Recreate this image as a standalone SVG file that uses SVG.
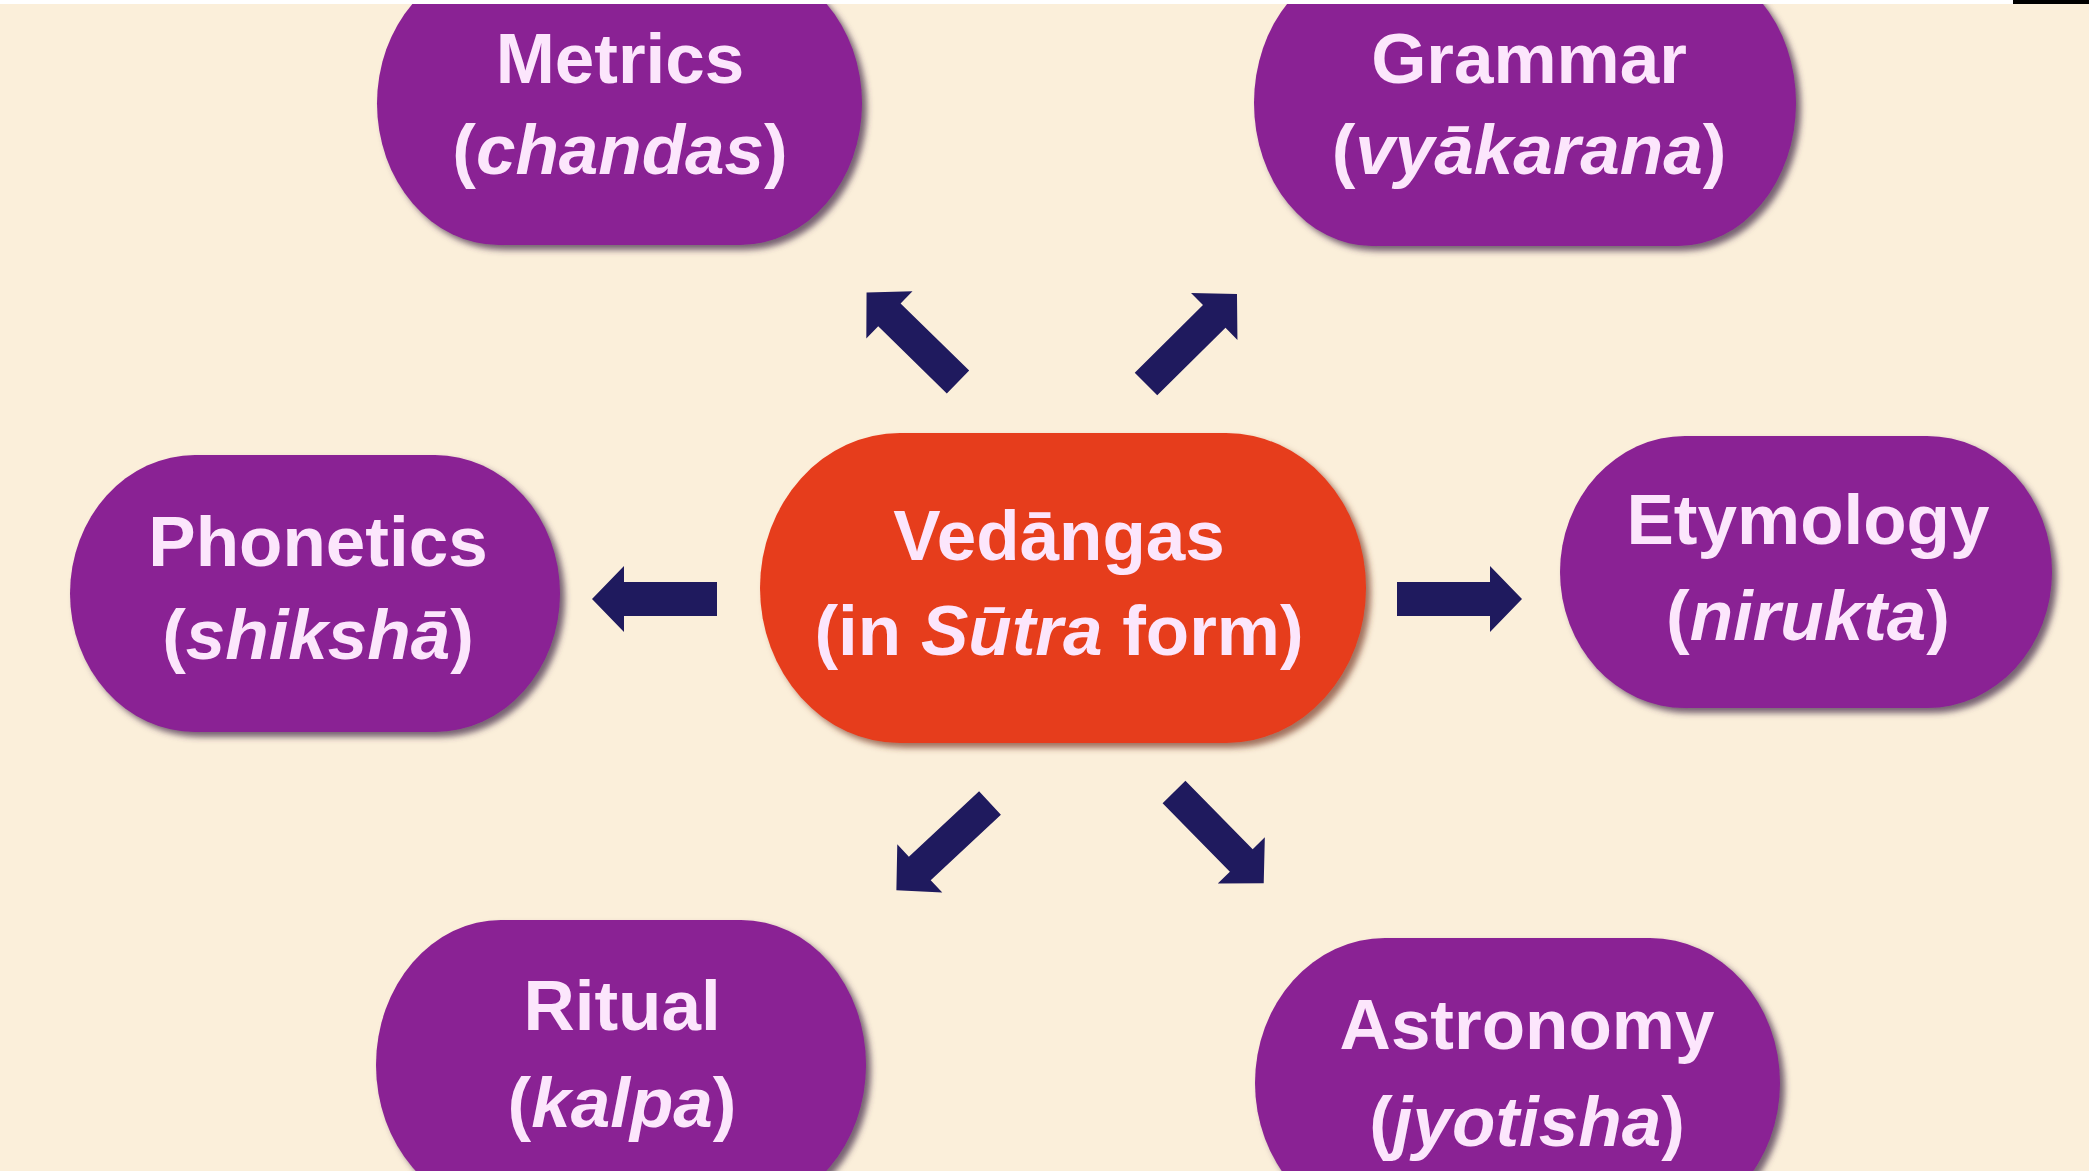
<svg xmlns="http://www.w3.org/2000/svg" width="2089" height="1171" viewBox="0 0 2089 1171">
  <defs>
    <style>
      .bg { fill: #FBEFDA; }
      .node { fill: #8A2194; filter: url(#shadow); }
      .center { fill: #E63C1D; filter: url(#shadowR); }
      .label { font-family: "Liberation Sans", Arial, sans-serif; font-weight: bold; font-size: 71px; fill: #FCE6FC; text-anchor: middle; }
      .it { font-style: italic; }
      .arrow { fill: #1F1A5E; }
    </style>
    <filter id="shadow" x="-10%" y="-10%" width="125%" height="125%">
      <feDropShadow dx="5" dy="5" stdDeviation="3" flood-color="#4A3050" flood-opacity="0.75"/>
    </filter>
    <filter id="shadowR" x="-10%" y="-10%" width="125%" height="125%">
      <feDropShadow dx="5" dy="5" stdDeviation="3" flood-color="#7A3A2A" flood-opacity="0.7"/>
    </filter>
  </defs>

  <rect class="bg" x="0" y="0" width="2089" height="1171"/>

  <g id="connectors">
    <g transform="translate(958,382) rotate(-135.6)"><polygon class="arrow" points="0,-16 96,-16 96,-33 128,0 96,33 96,16 0,16"/></g>
    <g transform="translate(1146,384) rotate(-44.7)"><polygon class="arrow" points="0,-16 96,-16 96,-33 128,0 96,33 96,16 0,16"/></g>
    <g transform="translate(717,599) rotate(180)"><polygon class="arrow" points="0,-17 93,-17 93,-33 125,0 93,33 93,17 0,17"/></g>
    <g transform="translate(1397,599)"><polygon class="arrow" points="0,-17 93,-17 93,-33 125,0 93,33 93,17 0,17"/></g>
    <g transform="translate(990,803) rotate(137)"><polygon class="arrow" points="0,-16 96,-16 96,-33 128,0 96,33 96,16 0,16"/></g>
    <g transform="translate(1174,792) rotate(45.5)"><polygon class="arrow" points="0,-16 96,-16 96,-33 128,0 96,33 96,16 0,16"/></g>
  </g>

  <g id="metrics">
    <rect class="node" x="377" y="-38" width="485" height="283" rx="122" ry="141.5"/>
    <text class="label" x="620" y="83">Metrics</text>
    <text class="label" x="620" y="174">(<tspan class="it">chandas</tspan>)</text>
  </g>

  <g id="grammar">
    <rect class="node" x="1254" y="-40" width="542" height="286" rx="118" ry="143"/>
    <text class="label" x="1529" y="83">Grammar</text>
    <text class="label" x="1529" y="174">(<tspan class="it">vyākarana</tspan>)</text>
  </g>

  <g id="phonetics">
    <rect class="node" x="70" y="455" width="490" height="277" rx="125" ry="138.5"/>
    <text class="label" x="318" y="566">Phonetics</text>
    <text class="label" x="318" y="659">(<tspan class="it">shikshā</tspan>)</text>
  </g>

  <g id="vedangas">
    <rect class="center" x="760" y="433" width="606" height="310" rx="140" ry="155"/>
    <text class="label" x="1059" y="560">Vedāngas</text>
    <text class="label" x="1059" y="655">(in <tspan class="it">Sūtra</tspan> form)</text>
  </g>

  <g id="etymology">
    <rect class="node" x="1560" y="436" width="492" height="272" rx="125" ry="136"/>
    <text class="label" x="1808" y="544">Etymology</text>
    <text class="label" x="1808" y="640">(<tspan class="it">nirukta</tspan>)</text>
  </g>

  <g id="ritual">
    <rect class="node" x="376" y="920" width="490" height="290" rx="125" ry="145"/>
    <text class="label" x="622" y="1030">Ritual</text>
    <text class="label" x="622" y="1127">(<tspan class="it">kalpa</tspan>)</text>
  </g>

  <g id="astronomy">
    <rect class="node" x="1255" y="938" width="525" height="290" rx="130" ry="145"/>
    <text class="label" x="1527" y="1049">Astronomy</text>
    <text class="label" x="1527" y="1146">(<tspan class="it">jyotisha</tspan>)</text>
  </g>

  <rect x="0" y="0" width="2013" height="4" fill="#FFFFFF"/>
  <rect x="2013" y="0" width="76" height="4" fill="#000000"/>
</svg>
